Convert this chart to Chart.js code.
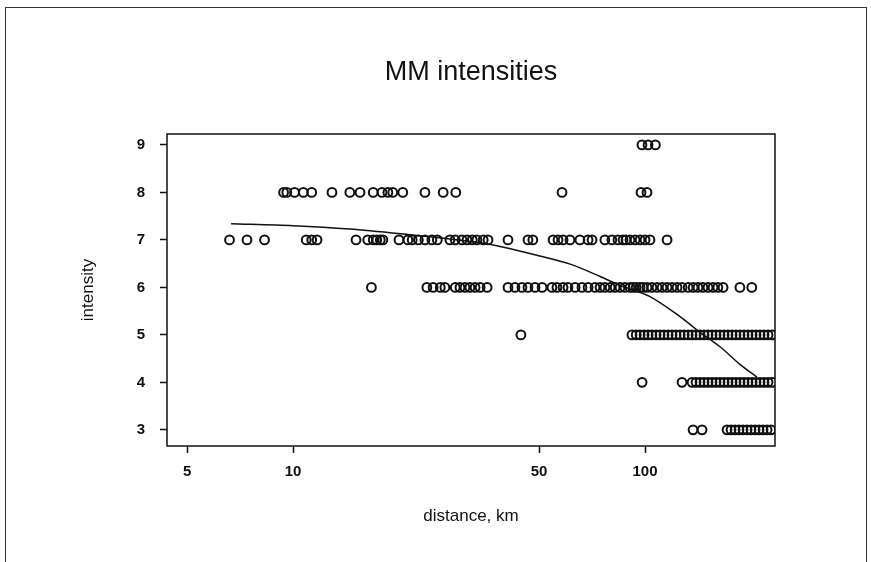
<!DOCTYPE html>
<html>
<head>
<meta charset="utf-8">
<script src="https://cdn.jsdelivr.net/npm/chart.js@4.4.1/dist/chart.umd.min.js"></script>
<style>
  body { margin: 0; background: #fff; overflow: hidden; }
  #wrap { position: relative; width: 871px; height: 562px; }
  #frame {
    position: absolute; left: 5px; top: 7px; width: 860px; height: 620px;
    border: 1.5px solid #333; pointer-events: none;
  }
</style>
</head>
<body>
<div id="wrap">
  <canvas id="chart" width="871" height="562"></canvas>
  <div id="frame"></div>
</div>
<script>
// tick labels
const xTicks = [5, 10, 50, 100];
const yTicks = [3, 4, 5, 6, 7, 8, 9];

// distances (km) of the observations, one list per MM intensity
const dist9 = [98, 102, 107];
const dist8 = [9.4, 9.6, 10.1, 10.7, 11.3, 12.9, 14.5, 15.5, 16.9, 17.9, 18.6, 19.2, 20.5,
  23.7, 26.7, 29.0, 58.1, 97.4, 101.3];
const dist7 = [6.6, 7.4, 8.3, 10.9, 11.3, 11.7, 15.1, 16.3, 16.9, 17.3, 17.7, 18.0, 20.0,
  21.2, 21.8, 22.7, 23.7, 24.8, 25.7, 27.9, 28.9, 30.2, 31.2, 32.3, 33.3, 34.7, 35.8, 40.8,
  46.5, 48.0, 54.8, 56.6, 58.5, 61.2, 65.3, 68.9, 70.7, 76.9, 80.5, 83.8, 86.6, 88.3, 90.6,
  93.7, 96.8, 100, 103.3, 115.5];
const dist6 = [16.7, 24.0, 25.0, 26.2, 27.0, 28.9, 29.8, 30.8, 31.8, 32.9, 34.0, 35.6, 40.8,
  42.7, 44.7, 46.5, 48.7, 51.0, 54.4, 56.2, 58.5, 60.4, 63.3, 66.2, 68.9, 72.1, 74.5, 76.9,
  79.6, 82.2, 84.9, 87.7, 90.6, 92.5, 94.4, 96.8, 98.7, 101.3, 104.6, 108.2, 111.8, 115.5,
  119.3, 123.3, 127.4, 132.6, 137, 141.4, 146, 151, 156, 161, 166.6, 186, 201];
const dist5 = [44.4, 91.8, 94.4, 96.8, 99.4, 102, 104.6, 107.5, 110.3, 113.2, 116.3, 119.3,
  122.5, 125.8, 129.2, 132.6, 136, 139.6, 143.3, 147.1, 151, 155, 159.1, 163.3, 167.7, 172.1,
  176.7, 181.3, 186.2, 191.1, 196.1, 201.4, 206.7, 212.2, 217.8, 223.6, 229.5];
const dist4 = [98.1, 127.4, 136, 139.6, 143.3, 147.1, 151, 155, 159.1, 163.3, 167.7, 172.1,
  176.7, 181.3, 186.2, 191.1, 196.1, 201.4, 206.7, 212.2, 217.8, 223.6, 229.5];
const dist3 = [136.9, 145.2, 171, 175.5, 180.2, 184.9, 189.8, 194.9, 200, 205.4, 210.8,
  216.4, 222.2, 228];

// fitted attenuation curve
const fitDist = [6.67, 10, 14.5, 21.5, 27.9, 36.2, 50.3, 61.3, 74.6, 85, 103, 126, 143, 164, 186, 208];
const fitIntensity = [7.34, 7.30, 7.23, 7.11, 7.02, 6.91, 6.66, 6.49, 6.23, 6.04, 5.81, 5.38, 5.06, 4.74, 4.38, 4.11];

const titleText = 'MM intensities';

const rows = [[dist3, 3], [dist4, 4], [dist5, 5], [dist6, 6], [dist7, 7], [dist8, 8], [dist9, 9]];
let points = [];
for (let i = 0; i < rows.length; i++) {
    rows[i][0].forEach(d => points.push({ x: d, y: rows[i][1] }));
}
const fit = fitDist.map((d, i) => ({ x: d, y: fitIntensity[i] }));

const ink = '#111';
const fontFamily = "'Liberation Sans', Arial, sans-serif";

// R style box around the plot region, title centred over it
const boxPlugin = {
    id: 'box',
    afterDraw(chart) {
        const a = chart.chartArea;
        const ctx = chart.ctx;
        ctx.save();
        ctx.strokeStyle = ink;
        ctx.lineWidth = 1.5;
        ctx.strokeRect(a.left, a.top, a.right - a.left, a.bottom - a.top);
        ctx.fillStyle = ink;
        ctx.font = '27px ' + fontFamily;
        ctx.textAlign = 'center';
        ctx.textBaseline = 'middle';
        ctx.fillText(titleText, (a.left + a.right) / 2, 73);
        ctx.restore();
    }
};

new Chart(document.getElementById('chart'), {
    type: 'scatter',
    data: {
        datasets: [{
            data: points,
            pointStyle: 'circle',
            pointRadius: 4.4,
            pointBorderWidth: 2,
            pointBorderColor: ink,
            pointBackgroundColor: 'rgba(0,0,0,0)',
            showLine: false
        }, {
            data: fit,
            showLine: true,
            borderColor: ink,
            borderWidth: 1.5,
            pointRadius: 0,
            tension: 0.3
        }]
    },
    options: {
        responsive: false,
        animation: false,
        layout: { padding: { left: 0, right: 96, top: 134, bottom: 0 } },
        plugins: {
            legend: { display: false },
            tooltip: { enabled: false },
            title: { display: false }
        },
        scales: {
            x: {
                type: 'logarithmic',
                min: 4.385,
                max: 234,
                afterBuildTicks: s => { s.ticks = xTicks.map(v => ({ value: v })); },
                afterFit: s => { s.height = 116; },
                ticks: {
                    color: ink,
                    padding: 10,
                    maxRotation: 0,
                    font: { family: fontFamily, size: 15, weight: 'bold' },
                    callback: v => String(v)
                },
                grid: { drawOnChartArea: false, drawTicks: true, tickLength: 7, tickColor: ink, tickWidth: 1.5 },
                border: { display: false },
                title: {
                    display: true,
                    text: 'distance, km',
                    color: ink,
                    font: { family: fontFamily, size: 17 },
                    padding: { top: 0, bottom: 35 }
                }
            },
            y: {
                min: 2.66,
                max: 9.23,
                afterBuildTicks: s => { s.ticks = yTicks.map(v => ({ value: v })); },
                afterFit: s => { s.width = 167; },
                ticks: {
                    color: ink,
                    padding: 15,
                    font: { family: fontFamily, size: 15, weight: 'bold' }
                },
                grid: { drawOnChartArea: false, drawTicks: true, tickLength: 7, tickColor: ink, tickWidth: 1.5 },
                border: { display: false },
                title: {
                    display: true,
                    text: 'intensity',
                    color: ink,
                    font: { family: fontFamily, size: 17 },
                    padding: { top: 78, bottom: 0 }
                }
            }
        }
    },
    plugins: [boxPlugin]
});
</script>
</body>
</html>
